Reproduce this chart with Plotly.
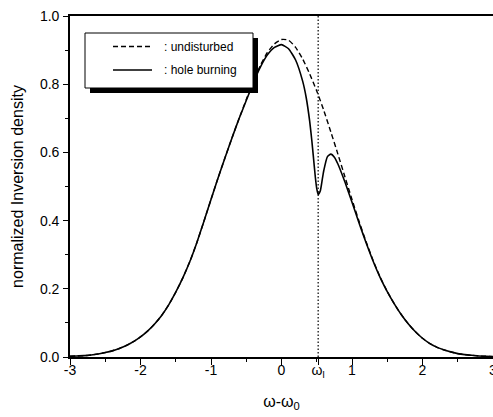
import plotly.graph_objects as go

# Laser line position (ω_l) relative to the gain centre ω_0
omega_l = 0.52

# Undisturbed inversion profile
x_undisturbed = [
    -3.0, -2.9, -2.8, -2.7, -2.6, -2.5, -2.4, -2.3, -2.2, -2.1,
    -2.0, -1.9, -1.8, -1.7, -1.6, -1.5, -1.4, -1.3, -1.2, -1.1,
    -1.0, -0.9, -0.8, -0.7, -0.6, -0.5, -0.4, -0.3, -0.2, -0.1,
    0.0, 0.1, 0.2, 0.3, 0.4, 0.5, 0.6, 0.7, 0.8, 0.9,
    1.0, 1.1, 1.2, 1.3, 1.4, 1.5, 1.6, 1.7, 1.8, 1.9,
    2.0, 2.1, 2.2, 2.3, 2.4, 2.5, 2.6, 2.7, 2.8, 2.9,
    3.0,
]
undisturbed = [
    0.002, 0.003, 0.004, 0.006, 0.009, 0.013, 0.018, 0.025, 0.034, 0.045,
    0.059, 0.076, 0.097, 0.122, 0.153, 0.190, 0.232, 0.280, 0.336, 0.398,
    0.462, 0.525, 0.585, 0.644, 0.700, 0.755, 0.808, 0.855, 0.893, 0.918,
    0.931, 0.929, 0.908, 0.874, 0.830, 0.780, 0.723, 0.660, 0.595, 0.528,
    0.462, 0.398, 0.338, 0.283, 0.234, 0.192, 0.156, 0.124, 0.097, 0.074,
    0.055, 0.040, 0.029, 0.021, 0.015, 0.010, 0.007, 0.005, 0.003, 0.002,
    0.001,
]

# Inversion profile with the spectral hole burnt at ω_l
x_hole = [
    -3.0, -2.9, -2.8, -2.7, -2.6, -2.5, -2.4, -2.3, -2.2, -2.1,
    -2.0, -1.9, -1.8, -1.7, -1.6, -1.5, -1.4, -1.3, -1.2, -1.1,
    -1.0, -0.9, -0.8, -0.7, -0.6, -0.5, -0.4, -0.3, -0.2, -0.1,
    0.0, 0.1, 0.2, 0.3, 0.35, 0.4, 0.43, 0.45, 0.48, 0.5,
    0.52, 0.55, 0.58, 0.6, 0.65, 0.7, 0.75, 0.8, 0.9,
    1.0, 1.1, 1.2, 1.3, 1.4, 1.5, 1.6, 1.7, 1.8, 1.9,
    2.0, 2.1, 2.2, 2.3, 2.4, 2.5, 2.6, 2.7, 2.8, 2.9,
    3.0,
]
hole_burning = [
    0.002, 0.003, 0.004, 0.006, 0.009, 0.013, 0.018, 0.025, 0.034, 0.045,
    0.059, 0.076, 0.097, 0.122, 0.153, 0.190, 0.232, 0.280, 0.336, 0.398,
    0.462, 0.525, 0.585, 0.644, 0.700, 0.752, 0.804, 0.850, 0.886, 0.908,
    0.916, 0.904, 0.871, 0.809, 0.761, 0.691, 0.635, 0.592, 0.527, 0.494,
    0.477, 0.487, 0.523, 0.547, 0.587, 0.595, 0.586, 0.566, 0.513,
    0.454, 0.393, 0.335, 0.281, 0.233, 0.192, 0.156, 0.124, 0.097, 0.074,
    0.055, 0.040, 0.029, 0.021, 0.015, 0.010, 0.007, 0.005, 0.003, 0.002,
    0.001,
]

x_tickvals = [-3, -2, -1, 0, omega_l, 1, 2, 3]
x_ticktext = ["-3", "-2", "-1", "0", "ω<sub>l</sub>", "1", "2", "3"]
y_tickvals = [0.0, 0.2, 0.4, 0.6, 0.8, 1.0]
y_ticktext = ["0.0", "0.2", "0.4", "0.6", "0.8", "1.0"]

legend_labels = [": undisturbed", ": hole burning"]

FONT = "Liberation Sans, Arial, sans-serif"
DASH_UNDISTURBED = "5px,3px"

# page geometry used to place the boxed key in paper coordinates
W, H = 493, 417
M_L, M_R, M_T, M_B = 70, 0, 16, 60
PLOT_W = W - M_L - M_R
PLOT_H = H - M_T - M_B


def px_x(px):
    return (px - M_L) / PLOT_W


def px_y(py):
    return (H - M_B - py) / PLOT_H


fig = go.Figure()
fig.add_trace(go.Scatter(
    x=x_undisturbed, y=undisturbed, mode="lines", name=legend_labels[0],
    line=dict(color="black", width=1.4, dash=DASH_UNDISTURBED, shape="spline", smoothing=0.6),
))
fig.add_trace(go.Scatter(
    x=x_hole, y=hole_burning, mode="lines", name=legend_labels[1],
    line=dict(color="black", width=1.6, shape="spline", smoothing=0.5),
))

# dotted marker of the burning laser frequency
fig.add_shape(type="line", xref="x", yref="y", x0=omega_l, x1=omega_l, y0=0, y1=1,
              line=dict(color="black", width=1.2, dash="1.5px,2px"), layer="above")

# boxed key with a drop shadow
fig.add_shape(type="rect", xref="paper", yref="paper",
              x0=px_x(90), x1=px_x(258), y0=px_y(93), y1=px_y(38),
              fillcolor="black", line=dict(width=0), layer="above")
fig.add_shape(type="rect", xref="paper", yref="paper",
              x0=px_x(85), x1=px_x(253), y0=px_y(88), y1=px_y(33),
              fillcolor="white", line=dict(color="black", width=1), layer="above")
key_rows = [46.5, 70.0]
key_dash = [DASH_UNDISTURBED, "solid"]
for label, row, dash in zip(legend_labels, key_rows, key_dash):
    fig.add_shape(type="line", xref="paper", yref="paper",
                  x0=px_x(113), x1=px_x(152), y0=px_y(row), y1=px_y(row),
                  line=dict(color="black", width=1.4, dash=dash), layer="above")
    fig.add_annotation(xref="paper", yref="paper", x=px_x(162), y=px_y(row),
                       xanchor="left", yanchor="middle", text=label, showarrow=False,
                       font=dict(family=FONT, size=12, color="black"))

axis_common = dict(showgrid=False, zeroline=False, color="black")

fig.update_layout(
    width=W, height=H,
    margin=dict(l=M_L, r=M_R, t=M_T, b=M_B),
    plot_bgcolor="white", paper_bgcolor="white",
    font=dict(family=FONT, size=14, color="black"),
    showlegend=False,
    xaxis=dict(
        range=[-3, 3], tickmode="array", tickvals=x_tickvals, ticktext=x_ticktext,
        ticks="outside", ticklen=6, tickwidth=1.3, tickcolor="black",
        minor=dict(ticks="outside", ticklen=3, tickwidth=1.2, tickcolor="black",
                   tickmode="linear", tick0=-3, dtick=0.5),
        showline=True, linewidth=1.6, linecolor="black", mirror=True,
        ticklabelstandoff=-7, ticklabeloverflow="allow", automargin=False,
        title=dict(text="ω-ω<sub>0</sub>", standoff=17, font=dict(size=16)),
        **axis_common,
    ),
    xaxis2=dict(
        overlaying="x", anchor="y", side="bottom", range=[-3, 3],
        tickmode="array", tickvals=[-3, -2, -1, 0, 1, 2, 3], showticklabels=False,
        ticks="inside", ticklen=6, tickwidth=1.3, tickcolor="black",
        minor=dict(ticks="inside", ticklen=3, tickwidth=1.2, tickcolor="black",
                   tickmode="linear", tick0=-3, dtick=0.5),
        showline=False, mirror="ticks", automargin=False,
        **axis_common,
    ),
    yaxis=dict(
        range=[0, 1], tickmode="array", tickvals=y_tickvals, ticktext=y_ticktext,
        ticks="outside", ticklen=5, tickwidth=1.3, tickcolor="black",
        minor=dict(ticks="outside", ticklen=3, tickwidth=1.2, tickcolor="black",
                   tickmode="linear", tick0=0, dtick=0.1),
        showline=True, linewidth=1.6, linecolor="black",
        ticklabelstandoff=1, automargin=False,
        title=dict(text="normalized Inversion density", standoff=12, font=dict(size=16)),
        **axis_common,
    ),
    yaxis2=dict(
        overlaying="y", anchor="x", side="left", range=[0, 1],
        tickmode="array", tickvals=y_tickvals, showticklabels=False,
        ticks="inside", ticklen=6, tickwidth=1.3, tickcolor="black",
        minor=dict(ticks="inside", ticklen=3, tickwidth=1.2, tickcolor="black",
                   tickmode="linear", tick0=0, dtick=0.1),
        showline=False, automargin=False,
        **axis_common,
    ),
)

fig.write_html("out.html")
